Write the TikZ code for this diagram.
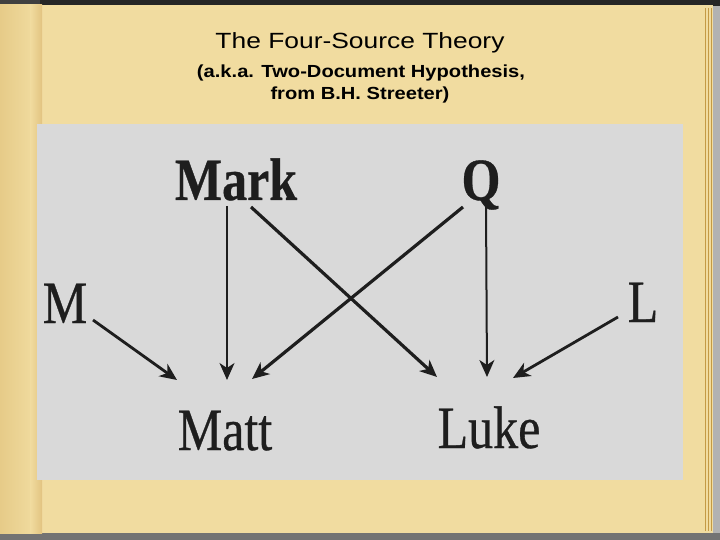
\documentclass[tikz,border=0pt]{standalone}
\usepackage{fontspec}
\setmainfont{Liberation Sans}
\newfontfamily\dserif[FakeBold=0.6]{Liberation Serif}
\newfontfamily\dserifb[FakeBold=0.6]{Liberation Serif Bold}
\usetikzlibrary{arrows.meta,calc}
\definecolor{parch}{HTML}{F1DCA0}
\definecolor{parchdark}{HTML}{E6CB88}
\definecolor{photo}{HTML}{D9D9D9}
\definecolor{ink}{HTML}{1E1E1E}
\definecolor{edgegold}{HTML}{C49A45}
\tikzset{
  lbl/.style={anchor=base,inner sep=0pt,text=ink,font=\dserif\fontsize{50}{50}\selectfont},
  lblb/.style={lbl,font=\dserifb\fontsize{50}{50}\selectfont},
  ttl/.style={anchor=base,inner sep=0pt,text=black},
  arr/.style={draw=ink,line width=2.8pt,-{Stealth[length=17pt,width=15pt,inset=5pt]}},
  arrv/.style={arr,line width=2pt}
}
\newcommand{\tall}[1]{\scalebox{1}[1.2]{#1}}
\begin{document}
\begin{tikzpicture}[x=1pt,y=-1pt]
\useasboundingbox (0,0) rectangle (720,540);
% frame and page
\fill[black!75] (0,0) rectangle (720,540);
\fill[black!85] (40,0) rectangle (720,6);
\fill[black!30] (713,6) rectangle (720,540);
\fill[black!55] (0,533) rectangle (720,540);
\fill[parch] (0,5) rectangle (713,533);
\shade[left color=parchdark,right color=parch] (0,5) rectangle (36,533);
\shade[left color=parch,right color=parchdark!90!brown] (30,5) rectangle (42,533);
\foreach \xx in {705,708,711} \draw[edgegold,line width=0.6pt] (\xx,8) -- (\xx,531);
% photo
\fill[photo] (37,124) rectangle (683,480);
% title
\node[ttl] (title) at (360,49) {\scalebox{1.2}[1]{\fontsize{22}{22}\selectfont The Four-Source Theory}};
\node[ttl] (sub1) at (361,78) {\scalebox{1.15}[1]{\bfseries\fontsize{17.5}{17.5}\selectfont (a.k.a. Two-Document Hypothesis,}};
\node[ttl] (sub2) at (360,100) {\scalebox{1.15}[1]{\bfseries\fontsize{17.5}{17.5}\selectfont from B.H. Streeter)}};
% diagram labels
\node[lblb] (Mark) at (236,200) {\tall{Mark}};
\node[lblb] (Q) at (481,200) {\tall{Q}};
\node[lbl] (M) at (65,323) {\tall{M}};
\node[lbl] (L) at (643,322) {\tall{L}};
\node[lbl] (Matt) at (225,450) {\tall{Matt}};
\node[lbl] (Luke) at (489,448) {\tall{Luke}};
% connector ends
\coordinate (markv) at ($(Mark.base)+(-9,6)$);
\coordinate (markd) at ($(Mark.base)+(15,7)$);
\coordinate (qd) at ($(Q.base)+(-18,7)$);
\coordinate (qv) at ($(Q.base)+(5,5)$);
\coordinate (mout) at ($(M.base)+(28,-3)$);
\coordinate (lout) at ($(L.base)+(-25,-5)$);
\coordinate (mattm) at ($(Matt.base)+(-48,-70)$);
\coordinate (mattmark) at ($(Matt.base)+(2,-70)$);
\coordinate (mattq) at ($(Matt.base)+(27,-71)$);
\coordinate (lukemark) at ($(Luke.base)+(-52,-71)$);
\coordinate (lukeq) at ($(Luke.base)+(-2,-71)$);
\coordinate (lukel) at ($(Luke.base)+(24,-70)$);
% connectors
\draw[arrv] (markv) -- (mattmark);
\draw[arr,line width=3.2pt] (markd) -- (lukemark);
\draw[arr,line width=3.2pt] (qd) -- (mattq);
\draw[arrv] (qv) -- (lukeq);
\draw[arr] (mout) -- (mattm);
\draw[arr] (lout) -- (lukel);
\end{tikzpicture}
\end{document}
